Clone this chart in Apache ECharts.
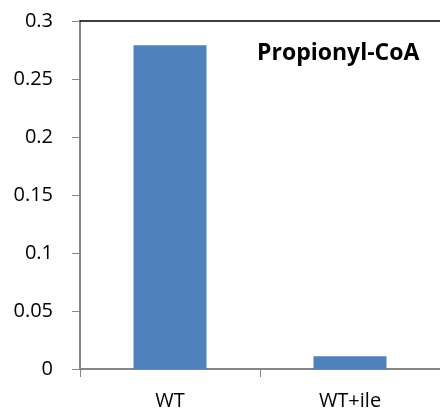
<!DOCTYPE html>
<html><head><meta charset="utf-8">
<script src="https://cdn.jsdelivr.net/npm/echarts@6/dist/echarts.min.js"></script>
<style>html,body{margin:0;padding:0;background:#fff}#c{width:440px;height:412px}</style>
</head><body><div id="c"></div>
<script>
var categories = ['WT', 'WT+ile'];
var values = [0.279, 0.011];
var yTicks = [0, 0.05, 0.1, 0.15, 0.2, 0.25, 0.3];
var titleText = 'Propionyl-CoA';

var chart = echarts.init(document.getElementById('c'), null, {renderer: 'canvas'});
var font = '"Open Sans", "Liberation Sans", sans-serif';
chart.setOption({
  animation: false,
  backgroundColor: '#fff',
  title: {
    text: titleText, left: 252, top: 37,
    textStyle: {fontFamily: font, fontWeight: 'bold', fontSize: 23, color: '#000'}
  },
  grid: {left: 80, right: -2, top: 21, bottom: 43, containLabel: false},
  xAxis: [{
    type: 'category', data: categories, position: 'bottom',
    axisLine: {lineStyle: {color: '#868686', width: 2}},
    axisTick: {show: true, length: 8, lineStyle: {color: '#868686', width: 1}},
    axisLabel: {fontFamily: font, fontSize: 20, color: '#000', margin: 22}
  }, {
    type: 'category', data: categories, position: 'top',
    axisLine: {show: true, lineStyle: {color: '#000', width: 1.5}},
    axisTick: {show: false}, axisLabel: {show: false}
  }],
  yAxis: {
    type: 'value', min: yTicks[0], max: yTicks[yTicks.length - 1], interval: 0.05,
    axisLine: {show: true, lineStyle: {color: '#868686', width: 2}},
    axisTick: {show: true, length: 8, lineStyle: {color: '#868686', width: 1}},
    splitLine: {show: false},
    axisLabel: {fontFamily: font, fontSize: 20, color: '#000', margin: 27}
  },
  series: [{
    type: 'bar', data: values, barWidth: 73, xAxisIndex: 0,
    itemStyle: {color: '#4F81BD'}
  }]
});
</script></body></html>
